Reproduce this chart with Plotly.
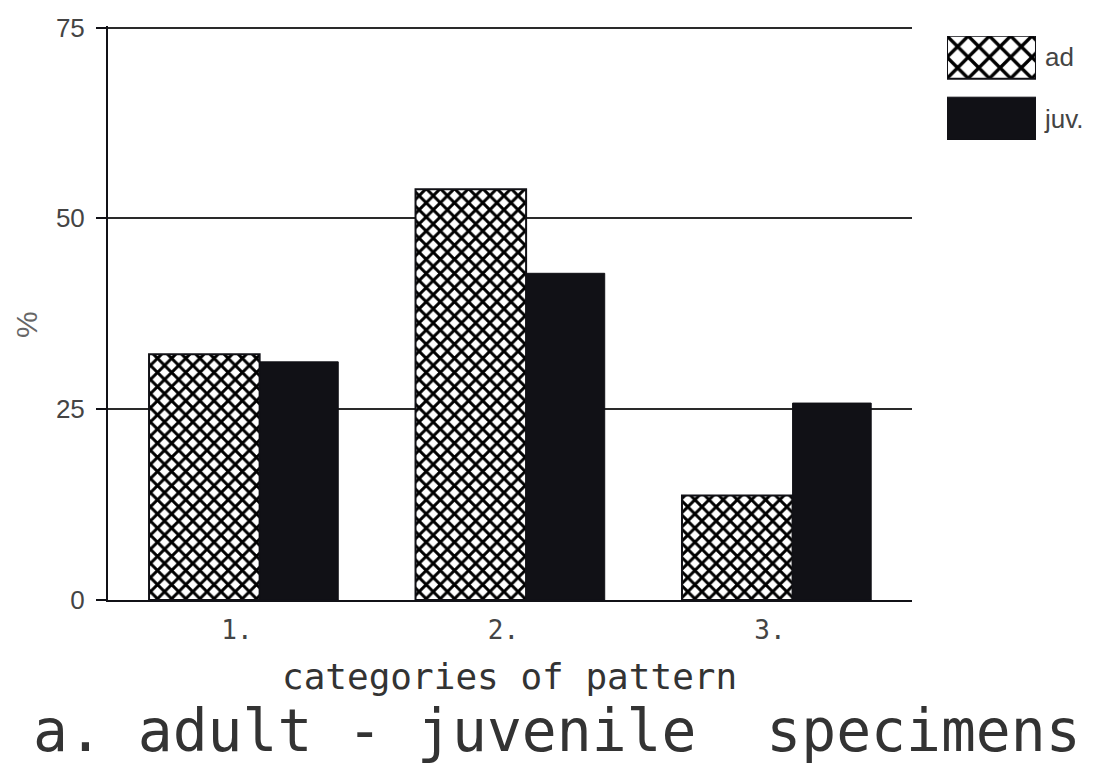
import plotly.graph_objects as go

# ---- data ----
categories = [1, 2, 3]
category_labels = ["1.", "2.", "3."]
series_names = ["ad", "juv."]
adult_pct = [32.2, 53.8, 13.7]
juvenile_pct = [31.2, 42.8, 25.8]
y_ticks = [0, 25, 50, 75]

MONO = "DejaVu Sans Mono"
SANS = "Liberation Sans Narrow, Liberation Sans, Arial"
INK = "#111116"
GREY = "#444444"

hatch = dict(shape="x", fgcolor="#000000", fgopacity=1, bgcolor="white",
             size=10, solidity=0.5, fillmode="replace")

fig = go.Figure()

fig.add_trace(go.Bar(
    x=categories, y=adult_pct, name=series_names[0],
    offset=-0.33, width=0.415,
    marker=dict(color="white", pattern=hatch, line=dict(color=INK, width=2)),
    showlegend=False,
))
fig.add_trace(go.Bar(
    x=categories, y=juvenile_pct, name=series_names[1],
    offset=0.085, width=0.295,
    marker=dict(color=INK, line=dict(color=INK, width=1)),
    showlegend=False,
))

# legend key drawn in a small inset axis (one full-width box per series)
fig.add_trace(go.Bar(
    x=[1], y=[1], orientation="h", width=0.70, xaxis="x2", yaxis="y2",
    marker=dict(color="white",
                pattern=dict(shape="x", fgcolor="#000000", fgopacity=1, bgcolor="white",
                             size=15, solidity=0.4, fillmode="replace"),
                line=dict(color=INK, width=2)),
    showlegend=False, hoverinfo="skip",
))
fig.add_trace(go.Bar(
    x=[1], y=[0], orientation="h", width=0.70, xaxis="x2", yaxis="y2",
    marker=dict(color=INK, line=dict(color=INK, width=1)),
    showlegend=False, hoverinfo="skip",
))

fig.update_layout(
    width=1102, height=758,
    margin=dict(l=100, r=20, t=18, b=166, autoexpand=False),
    paper_bgcolor="white", plot_bgcolor="white",
    barmode="overlay",
    showlegend=False,
    xaxis=dict(
        domain=[0, 0.8187],
        range=[0.516, 3.533],
        tickvals=categories, ticktext=category_labels,
        ticks="", showgrid=False, zeroline=False,
        showline=True, linecolor=INK, linewidth=2,
        tickfont=dict(family=MONO, size=26, color=GREY),
        ticklabelstandoff=6, automargin=False,
    ),
    yaxis=dict(
        domain=[0, 1],
        range=[0, 75.2],
        tickvals=y_ticks,
        ticks="outside", ticklen=10, tickwidth=2, tickcolor=INK,
        showgrid=True, gridcolor="#2a2a2a", gridwidth=2,
        zeroline=False,
        showline=True, linecolor=INK, linewidth=2,
        tickfont=dict(family=SANS, size=26, color=GREY),
        ticklabelstandoff=6, automargin=False,
    ),
    xaxis2=dict(
        domain=[0.8544, 0.945], anchor="y2", range=[0, 1],
        visible=False, fixedrange=True, automargin=False,
    ),
    yaxis2=dict(
        domain=[0.8014, 0.9826], anchor="x2", range=[-0.347, 1.347],
        side="right", tickvals=[1, 0], ticktext=series_names,
        ticks="", showgrid=False, zeroline=False, showline=False,
        tickfont=dict(family=SANS, size=26, color=GREY),
        ticklabelstandoff=8, automargin=False,
    ),
    annotations=[
        dict(text="%", xref="paper", yref="paper", x=-0.083, y=0.48,
             xanchor="center", yanchor="middle", textangle=-90, showarrow=False,
             font=dict(family=SANS, size=30, color="#666666")),
        dict(text="categories of pattern", xref="paper", yref="paper",
             x=(509 - 108) / 982, y=-(676 - 600) / 574,
             xanchor="center", yanchor="middle", showarrow=False,
             font=dict(family=MONO, size=36, color="#333333")),
        dict(text="a. adult - juvenile  specimens", xref="paper", yref="paper",
             x=(557 - 108) / 982, y=-(731 - 600) / 574,
             xanchor="center", yanchor="middle", showarrow=False,
             font=dict(family=MONO, size=58, color="#333333")),
    ],
)

fig.write_html("out.html")
